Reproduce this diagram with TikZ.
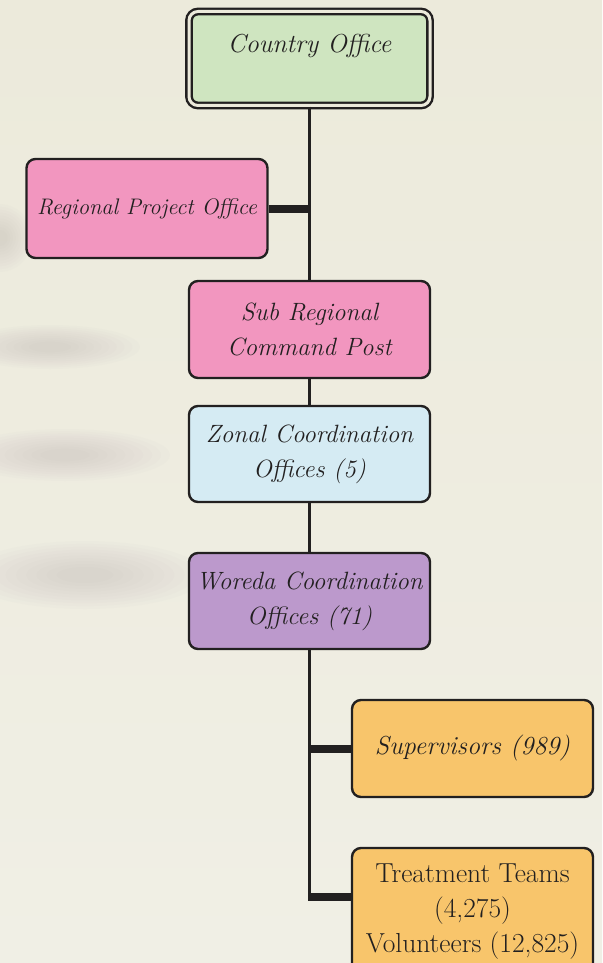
\documentclass[tikz,border=0pt]{standalone}
\definecolor{bgc}{HTML}{ECEADB}
\definecolor{bglow}{HTML}{F0EFE5}
\definecolor{smudge}{HTML}{A49A9C}
\definecolor{cgreen}{HTML}{CFE5C0}
\definecolor{cpink}{HTML}{F296BF}
\definecolor{cblue}{HTML}{D5EBF3}
\definecolor{cpurple}{HTML}{BC99CC}
\definecolor{corange}{HTML}{F8C56B}
\definecolor{ink}{HTML}{222020}
\begin{document}
\begin{tikzpicture}[x=1pt,y=-1pt,
  box/.style={draw=ink, line width=2.4pt, rounded corners=9pt, inner sep=0pt,
    align=center, text=ink, font=\fontsize{25}{35}\selectfont\itshape,
    minimum width=241pt},
  thin/.style={draw=ink, line width=3pt},
  thick/.style={draw=ink, line width=8pt}]
\shade[top color=bgc, bottom color=bglow] (0,0) rectangle (602,963);
\useasboundingbox (0,0) rectangle (602,963);
% background smudges
\foreach \cx/\cy/\rx/\ry in {50/347/90/22, 65/455/105/26, 85/575/120/34, 0/238/32/34} {
  \foreach \k in {0,...,9} {
    \fill[smudge, opacity=0.028] (\cx,\cy) ellipse ({\rx*(1-0.085*\k)} and {\ry*(1-0.085*\k)});
  }
}
% nodes
\node[box, fill=cgreen, double=bgc, double distance=3pt, line width=2.4pt,
  text height=41pt, text depth=53pt, font=\fontsize{26}{35}\selectfont\itshape] (country) at (309.5,58.5) {Country Office};
\node[box, fill=cpink, minimum height=99pt, font=\fontsize{22.5}{35}\selectfont\itshape] (rpo) at (147,208.5) {Regional Project Office};
\node[box, fill=cpink, minimum height=97pt] (sub) at (309.5,329.5) {Sub Regional\\Command Post};
\node[box, fill=cblue, minimum height=96pt] (zonal) at (309.5,454) {Zonal Coordination\\Offices (5)};
\node[box, fill=cpurple, minimum height=96pt] (woreda) at (309.5,601) {Woreda Coordination\\Offices (71)};
\node[box, fill=corange, minimum height=97pt, font=\fontsize{26}{35}\selectfont\itshape] (sup) at (472.5,748.5) {Supervisors (989)};
\node[box, fill=corange, minimum height=128pt, font=\fontsize{27.5}{35}\selectfont\upshape] (treat) at (472.5,912)
  {Treatment Teams\\(4,275)\\Volunteers (12,825)};
\coordinate (tj) at (309.5,897);
\coordinate (sj) at (309.5,748.5);
\coordinate (rj) at (309.5,208.5);
% connectors
\draw[thin] (country.south) -- (sub.north);
\draw[thick] (rpo.east) -- ([xshift=1.5pt]rj);
\draw[thin] (sub.south) -- (zonal.north);
\draw[thin] (zonal.south) -- (woreda.north);
\draw[thin] (woreda.south) -- (tj);
\draw[thick] ([xshift=-1.5pt]sj) -- (sup.west);
\draw[thick] ([xshift=-1.5pt]tj) -- (tj -| treat.west);
\end{tikzpicture}
\end{document}
